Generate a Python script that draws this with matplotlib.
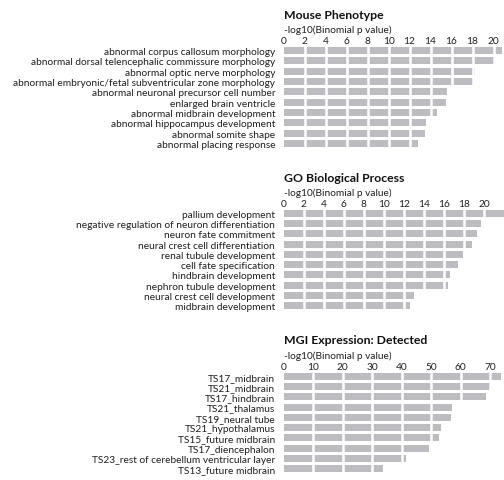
import matplotlib
matplotlib.use("Agg")
from matplotlib import pyplot as plt

plt.rcParams['font.family'] = ['Lato', 'DejaVu Sans']

# Mouse Phenotype
mp_terms = ["abnormal corpus callosum morphology",
            "abnormal dorsal telencephalic commissure morphology",
            "abnormal optic nerve morphology",
            "abnormal embryonic/fetal subventricular zone morphology",
            "abnormal neuronal precursor cell number",
            "enlarged brain ventricle",
            "abnormal midbrain development",
            "abnormal hippocampus development",
            "abnormal somite shape",
            "abnormal placing response"]
mp_vals = [20.8, 20.05, 18.2, 18.0, 15.6, 15.5, 14.6, 13.6, 13.5, 12.85]
mp_ticks = [0, 2, 4, 6, 8, 10, 12, 14, 16, 18, 20]

# GO Biological Process
go_terms = ["pallium development",
            "negative regulation of neuron differentiation",
            "neuron fate commitment",
            "neural crest cell differentiation",
            "renal tubule development",
            "cell fate specification",
            "hindbrain development",
            "nephron tubule development",
            "neural crest cell development",
            "midbrain development"]
go_vals = [22.0, 19.7, 19.27, 18.8, 17.9, 17.4, 16.6, 16.4, 13.0, 12.6]
go_ticks = [0, 2, 4, 6, 8, 10, 12, 14, 16, 18, 20]

# MGI Expression: Detected
mgi_terms = ["TS17_midbrain",
             "TS21_midbrain",
             "TS17_hindbrain",
             "TS21_thalamus",
             "TS19_neural tube",
             "TS21_hypothalamus",
             "TS15_future midbrain",
             "TS17_diencephalon",
             "TS23_rest of cerebellum ventricular layer",
             "TS13_future midbrain"]
mgi_vals = [73.8, 69.9, 68.6, 57.2, 56.9, 53.2, 52.6, 49.4, 41.5, 33.8]
mgi_ticks = [0, 10, 20, 30, 40, 50, 60, 70]

W, H = 504, 481
fig = plt.figure(figsize=(W / 100, H / 100), dpi=100)

panels = [("Mouse Phenotype", mp_terms, mp_vals, mp_ticks, 21.0, 46.5),
          ("GO Biological Process", go_terms, go_vals, go_ticks, 22.0, 209.0),
          ("MGI Expression: Detected", mgi_terms, mgi_vals, mgi_ticks, 74.7, 372.0)]

left_px = 283.5
ax_h = 103.0
bar_col = '#bdbdc1'
txt_col = '#1e1e1e'
fs = 7.3

for title, terms, vals, ticks, xmax, top_px in panels:
    ax = fig.add_axes([left_px / W, 1 - (top_px + ax_h) / H,
                       1 - left_px / W, ax_h / H])
    y = list(range(len(terms)))
    ax.barh(y, vals, height=0.68, color=bar_col, zorder=1)
    ax.set_xlim(0, xmax)
    ax.set_ylim(len(terms) - 0.5, -0.5)
    ax.set_yticks(y)
    ax.set_yticklabels(terms, fontsize=fs, color=txt_col)
    ax.set_xticks(ticks)
    ax.set_xticklabels([str(t) for t in ticks], fontsize=fs, color=txt_col)
    ax.xaxis.tick_top()
    ax.tick_params(axis='x', length=0, pad=0)
    ax.tick_params(axis='y', length=0, pad=6)
    for t in ticks[1:]:
        ax.axvline(t, color='white', lw=1.8, zorder=2)
    for s in ax.spines.values():
        s.set_visible(False)
    fig.text(left_px / W, 1 - (top_px - 16) / H, "-log10(Binomial p value)",
             fontsize=fs, color=txt_col, ha='left', va='center')
    fig.text(left_px / W, 1 - (top_px - 31) / H, title,
             fontsize=8.8, fontweight='bold', color='#111111',
             ha='left', va='center')

fig.savefig("out.png", dpi=100)
